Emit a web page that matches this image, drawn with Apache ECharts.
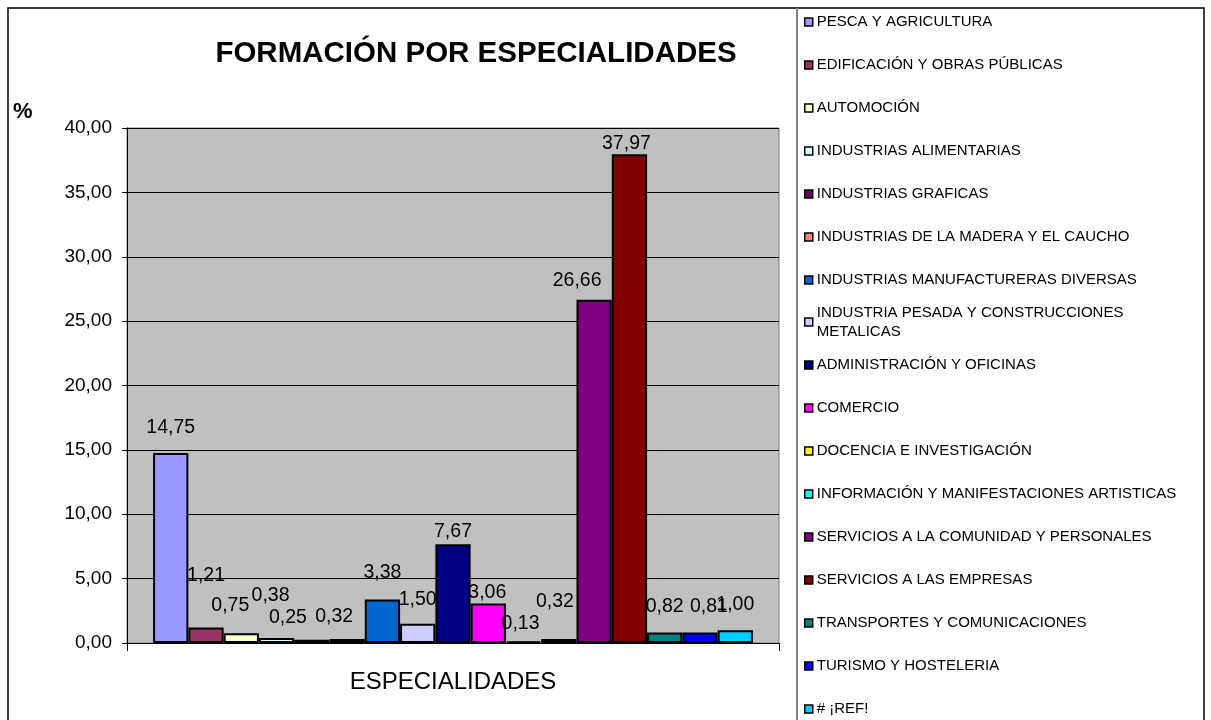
<!DOCTYPE html>
<html>
<head>
<meta charset="utf-8">
<script src="https://cdn.jsdelivr.net/npm/echarts@6/dist/echarts.min.js"></script>
<style>
html, body { margin: 0; padding: 0; background: #fff; }
#chart { width: 1211px; height: 720px; }
</style>
</head>
<body>
<div id="chart"></div>
<script>
// datos
var categorias = ['ESPECIALIDADES'];
var especialidades = [
    'PESCA Y AGRICULTURA',
    'EDIFICACIÓN Y OBRAS PÚBLICAS',
    'AUTOMOCIÓN',
    'INDUSTRIAS ALIMENTARIAS',
    'INDUSTRIAS GRAFICAS',
    'INDUSTRIAS DE LA MADERA Y EL CAUCHO',
    'INDUSTRIAS MANUFACTURERAS DIVERSAS',
    'INDUSTRIA PESADA Y CONSTRUCCIONES METALICAS',
    'ADMINISTRACIÓN Y OFICINAS',
    'COMERCIO',
    'DOCENCIA E INVESTIGACIÓN',
    'INFORMACIÓN Y MANIFESTACIONES ARTISTICAS',
    'SERVICIOS A LA COMUNIDAD Y PERSONALES',
    'SERVICIOS A LAS EMPRESAS',
    'TRANSPORTES Y COMUNICACIONES',
    'TURISMO Y HOSTELERIA',
    '# ¡REF!'
];
var porcentajes = [14.75, 1.21, 0.75, 0.38, 0.25, 0.32, 3.38, 1.50, 7.67, 3.06, 0.13, 0.32, 26.66, 37.97, 0.82, 0.81, 1.00];

// estilo
var colores = ['#9999FF', '#993366', '#FFFFCC', '#CCFFFF', '#660066', '#FF8080', '#0066CC', '#CCCCFF',
               '#000080', '#FF00FF', '#FFFF00', '#00FFFF', '#800080', '#800000', '#008080', '#0000FF', '#00CCFF'];
// desplazamiento de etiquetas (como en el original de Excel)
var desplaz = [[0, -16], [0, -42], [-11, -18], [-6, -33], [-24, -13], [-13, -13], [0, -17], [0, -15],
               [0, -3], [-1, -1], [-3, -8], [-4, -28], [-17, -10], [-3, -1], [0, -16], [9, -16], [0, -16]];

var fmt = function (v) { return v.toFixed(2).replace('.', ','); };
var fuente = 'Liberation Sans, Arial, sans-serif';

var myChart = echarts.init(document.getElementById('chart'));

var series = especialidades.map(function (nombre, i) {
    return {
        name: nombre,
        type: 'bar',
        data: [porcentajes[i]],
        barGap: '0%',
        barCategoryGap: '8%',
        itemStyle: { color: colores[i], borderColor: '#000', borderWidth: 2 },
        label: {
            show: true,
            position: 'top',
            distance: 0,
            offset: desplaz[i],
            fontSize: 19.5,
            lineHeight: 19,
            fontFamily: fuente,
            color: '#000',
            formatter: function (p) { return fmt(p.value); }
        }
    };
});

var leyendaBase = {
    orient: 'vertical',
    left: 804,
    padding: 0,
    icon: 'rect',
    itemWidth: 8,
    itemHeight: 8,
    itemGap: 26,
    selectedMode: false,
    itemStyle: { borderColor: '#000', borderWidth: 1.5 },
    textStyle: { fontSize: 15, lineHeight: 17, fontFamily: fuente, color: '#000', padding: [0, 0, 0, -1] }
};

var option = {
    animation: false,
    backgroundColor: '#fff',
    title: [
        {
            text: 'FORMACIÓN POR ESPECIALIDADES',
            left: 476,
            top: 39,
            textAlign: 'center',
            padding: 0,
            textStyle: { fontSize: 29.5, fontWeight: 'bold', fontFamily: fuente, color: '#000' }
        },
        {
            text: '%',
            left: 13,
            top: 101,
            padding: 0,
            textStyle: { fontSize: 22, fontWeight: 'bold', fontFamily: fuente, color: '#000' }
        }
    ],
    grid: {
        left: 127,
        right: 432,
        top: 128,
        bottom: 77,
        show: true,
        backgroundColor: '#C0C0C0',
        borderColor: '#808080',
        borderWidth: 1
    },
    xAxis: {
        type: 'category',
        data: categorias,
        axisLine: { lineStyle: { color: '#000', width: 1 } },
        axisTick: { show: true, length: 8, lineStyle: { color: '#000' } },
        axisLabel: { fontSize: 24, fontFamily: fuente, color: '#000', margin: 27 }
    },
    yAxis: {
        type: 'value',
        min: 0,
        max: 40,
        interval: 5,
        axisLine: { show: true, lineStyle: { color: '#000', width: 1 } },
        axisTick: { show: true, length: 5, lineStyle: { color: '#000' } },
        axisLabel: { fontSize: 19, fontFamily: fuente, color: '#000', margin: 15, formatter: fmt },
        splitLine: { lineStyle: { color: '#000', width: 1 } }
    },
    graphic: [
        { type: 'rect', z: -1, shape: { x: 8, y: 8, width: 1196, height: 740 }, style: { fill: 'none', stroke: '#000', lineWidth: 1.5 } },
        { type: 'line', z: -1, shape: { x1: 797, y1: 8, x2: 797, y2: 720 }, style: { stroke: '#808080', lineWidth: 2 } }
    ],
    series: series
};

// tres bloques de leyenda para respetar el espaciado del original
var ley1 = Object.assign({}, leyendaBase, { top: 13.5, data: especialidades.slice(0, 7) });
var ley2 = Object.assign({}, leyendaBase, {
    top: 293.5,
    data: especialidades.slice(7, 8),
    formatter: function (n) { return n.replace('CONSTRUCCIONES ', 'CONSTRUCCIONES\n'); },
    textStyle: { fontSize: 15, lineHeight: 19, fontFamily: fuente, color: '#000', padding: [19, 0, 0, -1] }
});
var ley3 = Object.assign({}, leyendaBase, { top: 356.5, data: especialidades.slice(8) });
option.legend = [ley1, ley2, ley3];

myChart.setOption(option);
</script>
</body>
</html>
